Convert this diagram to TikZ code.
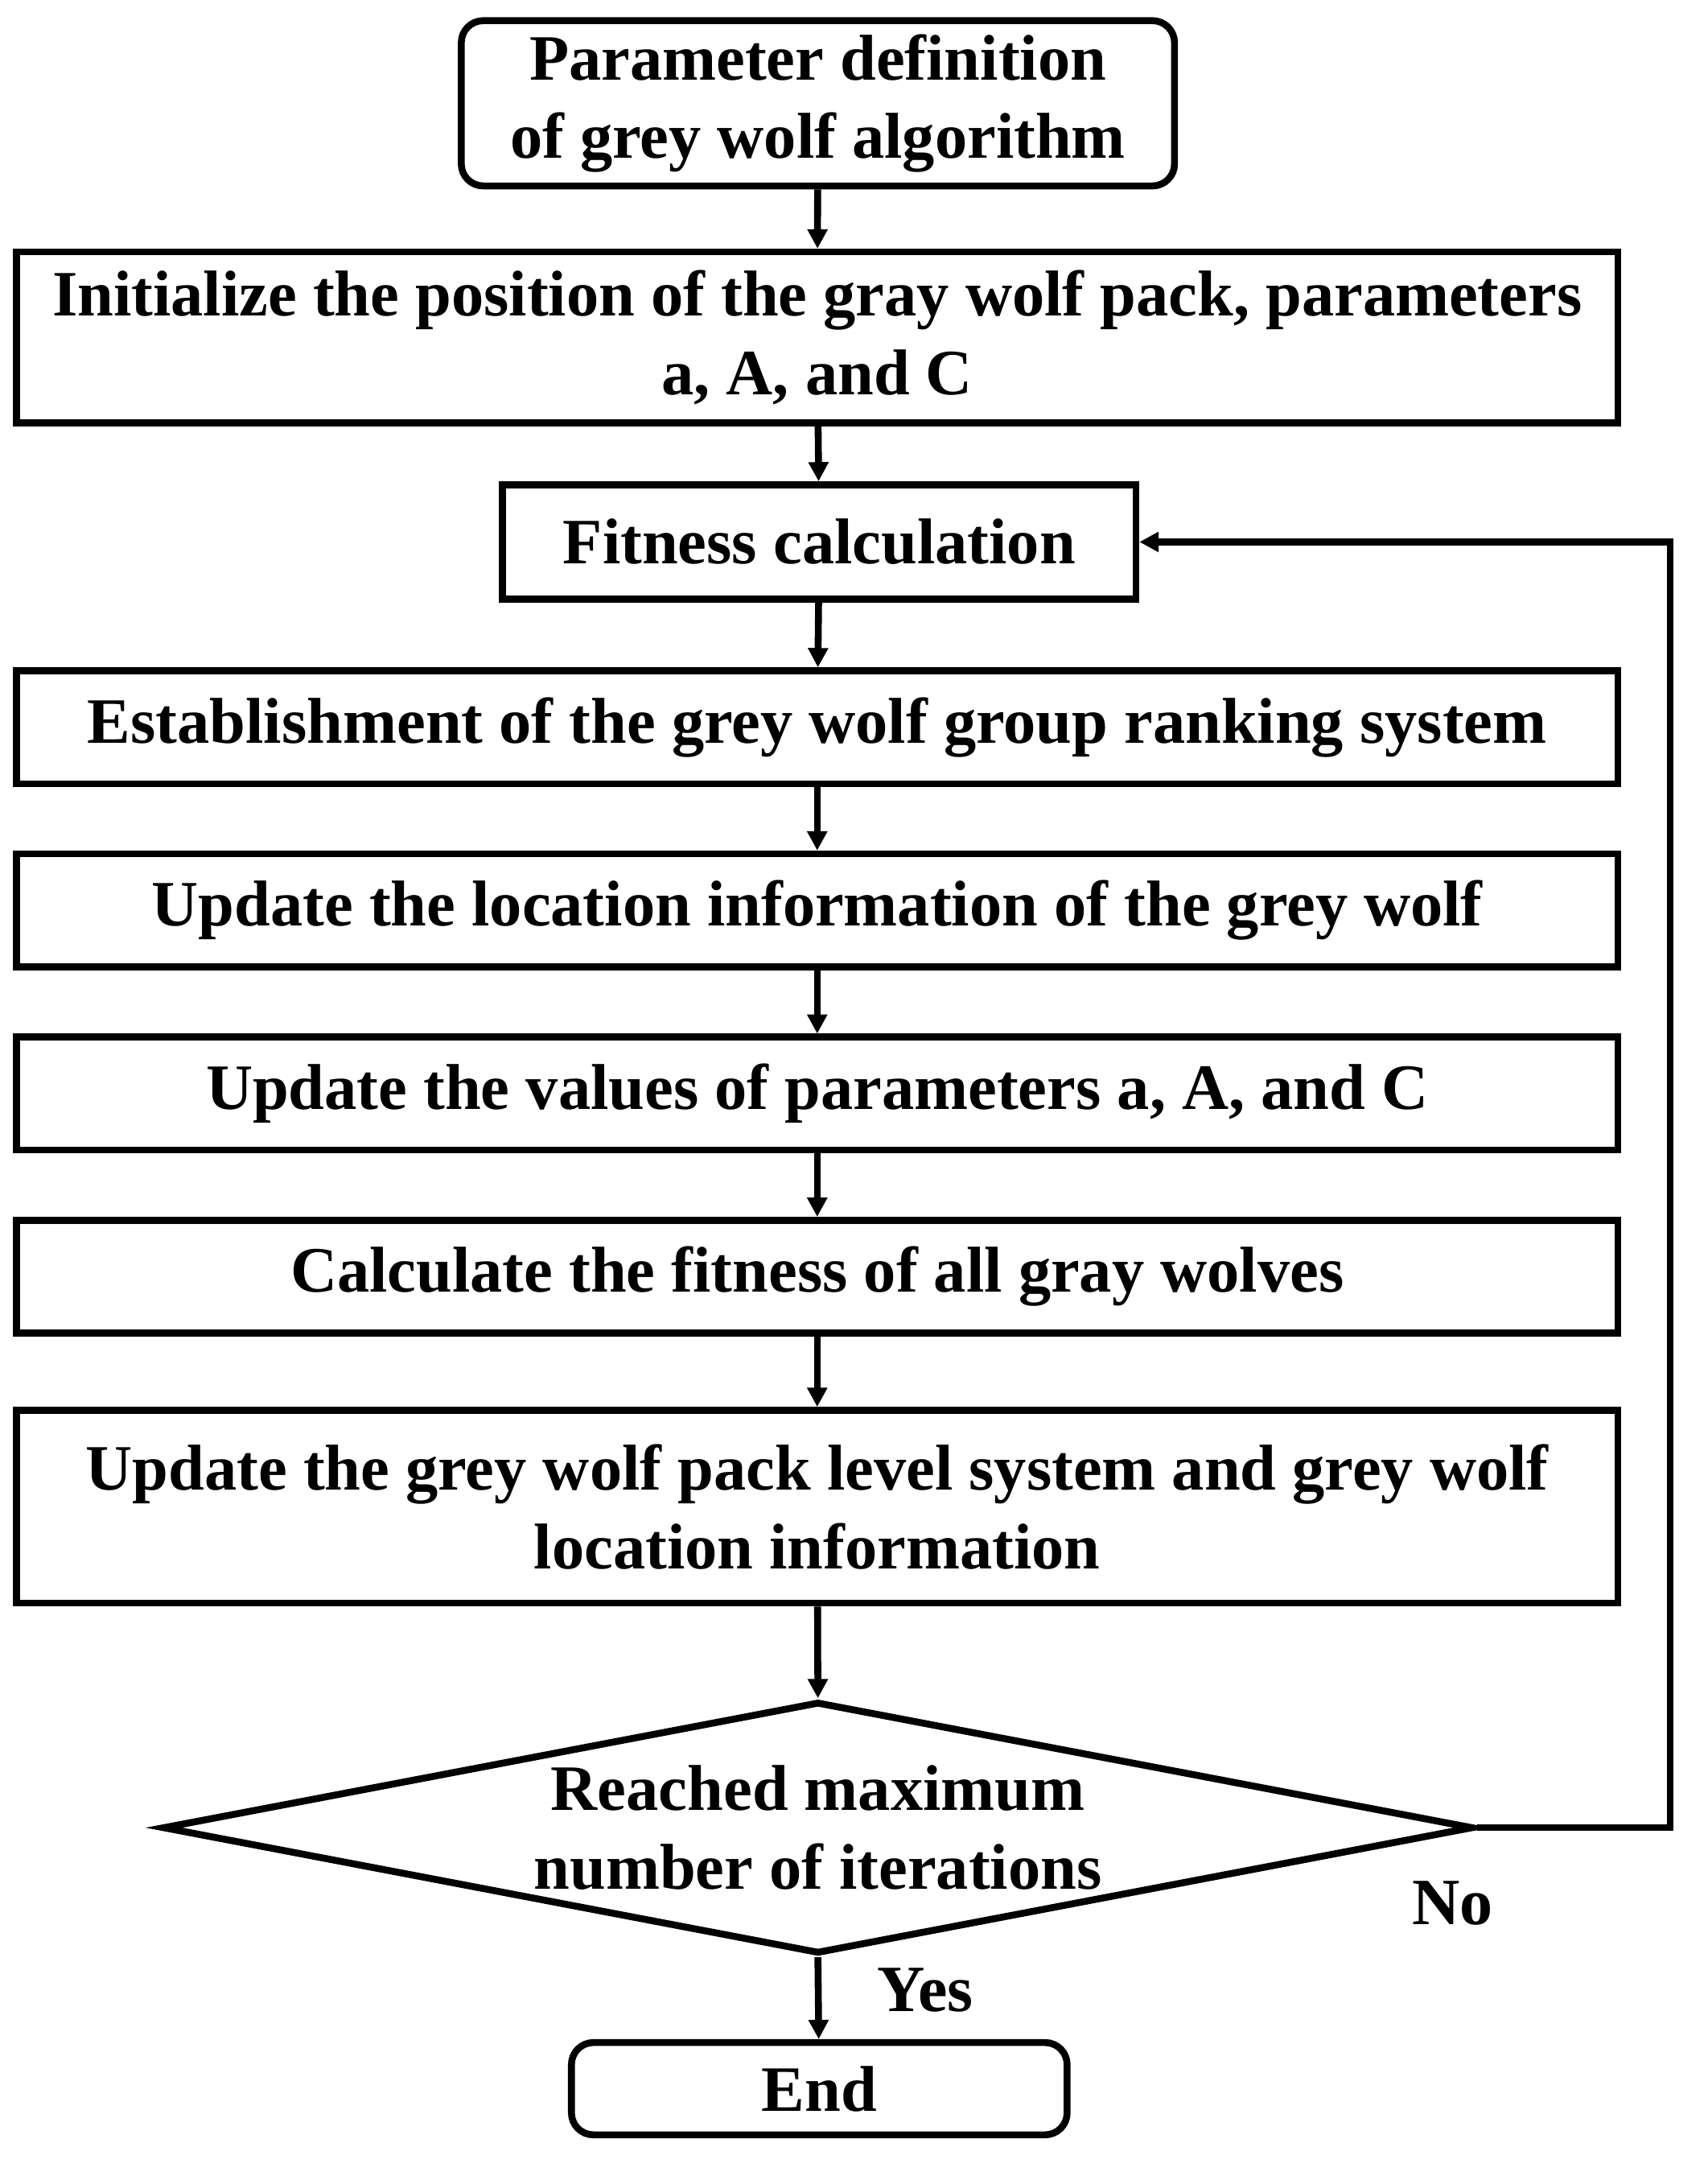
\documentclass[tikz,border=0pt]{standalone}
\usepackage{fontspec}
\setmainfont{Liberation Serif}
\usetikzlibrary{shapes.geometric,arrows.meta}
\begin{document}
\begin{tikzpicture}[x=0.5pt,y=-0.5pt,
  box/.style={draw,line width=2.5pt,inner sep=0pt,align=center,font=\bfseries\fontsize{23.5}{28.5}\selectfont},
  arr/.style={line width=2.5pt,-{Triangle[length=7pt,width=7pt]}}]
\useasboundingbox (0,0) rectangle (1240,1577);
\node[box,rounded corners=8pt,minimum width=259pt,minimum height=60pt] (b1) at (594,75) {Parameter definition\\of grey wolf algorithm};
\node[box,minimum width=581.5pt,minimum height=62pt] (b2) at (593.5,245) {Initialize the position of the gray wolf pack, parameters\\a, A, and C};
\node[box,minimum width=230pt,minimum height=41.5pt] (b3) at (595,393.5) {Fitness calculation};
\node[box,minimum width=581.5pt,minimum height=41pt] (b4) at (593.5,528) {Establishment of the grey wolf group ranking system};
\node[box,minimum width=581.5pt,minimum height=41pt] (b5) at (593.5,661) {Update the location information of the grey wolf};
\node[box,minimum width=581.5pt,minimum height=41pt] (b6) at (593.5,794) {Update the values of parameters a, A, and C};
\node[box,minimum width=581.5pt,minimum height=41pt] (b7) at (593.5,927) {Calculate the fitness of all gray wolves};
\node[box,minimum width=581.5pt,minimum height=70pt] (b8) at (593.5,1094) {Update the grey wolf pack level system and grey wolf\\location information};
\node[box,diamond,minimum width=476pt,minimum height=91.5pt] (d) at (594,1327) {};
\node[font=\bfseries\fontsize{23.5}{28.5}\selectfont,align=center] (dt) at (594,1327) {Reached maximum\\number of iterations};
\node[box,rounded corners=8pt,minimum width=180pt,minimum height=33.5pt] (e) at (595,1516.5) {End};
\coordinate (c1) at (1213,1327);
\coordinate (c2) at (1213,393.5);
\draw[arr] (b1) -- (b2);
\draw[arr] (b2) -- (b3);
\draw[arr] (b3) -- (b4);
\draw[arr] (b4) -- (b5);
\draw[arr] (b5) -- (b6);
\draw[arr] (b6) -- (b7);
\draw[arr] (b7) -- (b8);
\draw[arr] (b8) -- (d.north);
\draw[arr] (d.south) -- (e);
\draw[arr] (d.east) -- (c1) -- (c2) -- (b3.east);
\node[font=\bfseries\fontsize{24}{28}\selectfont] (no) at (1055,1382) {No};
\node[font=\bfseries\fontsize{24}{28}\selectfont] (yes) at (672,1445) {Yes};
\end{tikzpicture}
\end{document}
